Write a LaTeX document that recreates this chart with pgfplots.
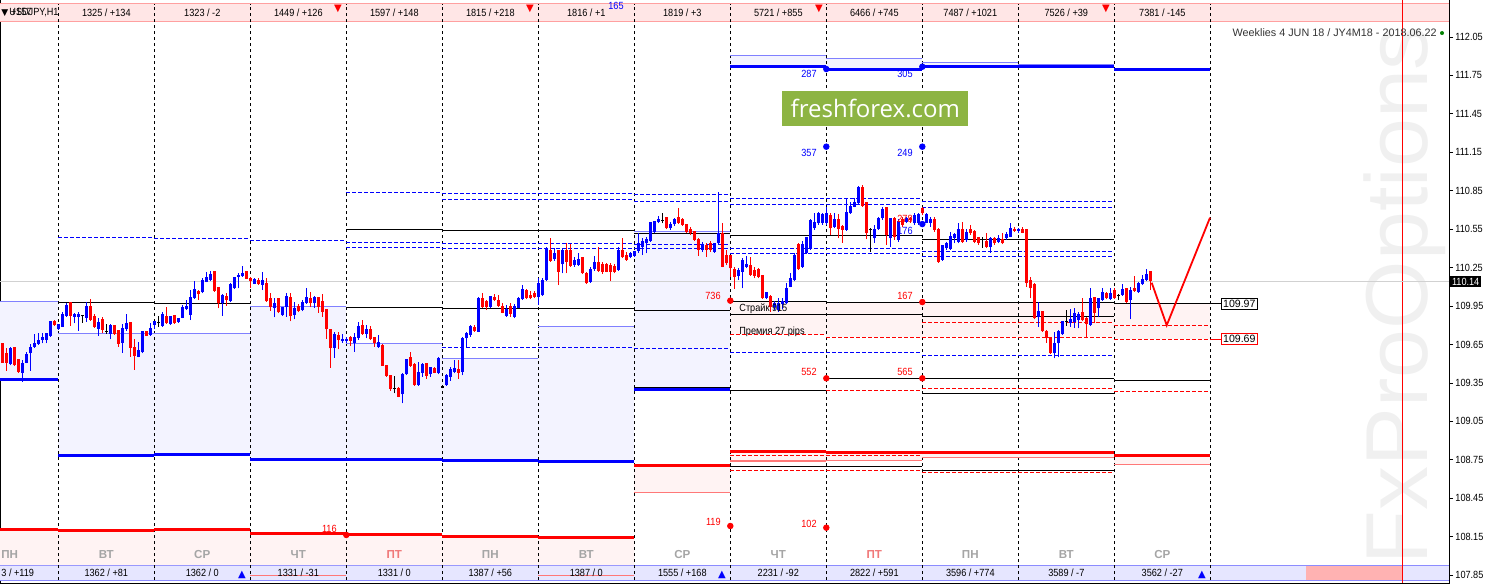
\documentclass[border=0pt]{standalone}
\usepackage{fontspec}
\setmainfont{Liberation Sans}
\newfontfamily\mt[FakeStretch=0.88]{Liberation Sans}
\newfontfamily\dv{DejaVu Sans}
\newfontfamily\osans{Open Sans}
\usepackage{pgfplots}
\usepackage{pgfplotstable}
\pgfplotsset{compat=1.18}
\definecolor{mtblue}{RGB}{0,0,255}
\definecolor{mtred}{RGB}{255,0,0}
\definecolor{lav}{RGB}{128,128,255}
\definecolor{lavfill}{RGB}{243,243,255}
\definecolor{pinkfill}{RGB}{255,243,243}
\definecolor{pinkline}{RGB}{255,120,120}
\definecolor{topstrip}{RGB}{255,230,230}
\definecolor{topline}{RGB}{255,160,160}
\definecolor{botstrip}{RGB}{230,230,255}
\definecolor{botline}{RGB}{140,140,255}
\definecolor{ffgreen}{RGB}{141,180,67}
\definecolor{wm}{RGB}{240,240,240}
\definecolor{dayg}{RGB}{165,165,165}
\definecolor{dayr}{RGB}{240,120,120}
\newcommand{\sml}{\mt\fontsize{5.2}{6}\selectfont}
\newcommand{\smn}{\fontsize{5.3}{6}\selectfont}
\pgfplotsset{
  wick/.style={draw=none, mark=none, error bars/.cd, y dir=plus, y explicit, error mark=none, error bar style={draw=#1, line width=0.5pt}},
  body/.style={draw=none, mark=none, error bars/.cd, y dir=plus, y explicit, error mark=none, error bar style={draw=#1, line width=1.5pt}},
}

\pgfplotstableread{
x H BH BL L
10.3 109.633 109.615 109.495 109.487
22.3 109.529 109.500 109.430 109.360
26.3 109.591 109.573 109.508 109.503
30.3 109.651 109.630 109.581 109.446
34.3 109.729 109.654 109.633 109.625
38.3 109.737 109.682 109.654 109.646
42.3 109.737 109.703 109.685 109.659
46.3 109.737 109.734 109.688 109.659
50.3 109.833 109.828 109.716 109.711
58.3 109.802 109.802 109.773 109.766
62.3 109.904 109.885 109.789 109.786
66.3 109.976 109.958 109.872 109.867
74.3 109.898 109.880 109.867 109.815
78.3 109.901 109.880 109.867 109.758
86.3 109.979 109.943 109.859 109.828
98.3 109.854 109.825 109.771 109.719
110.3 109.810 109.797 109.732 109.690
122.3 109.810 109.771 109.664 109.586
126.3 109.885 109.810 109.771 109.755
138.3 109.672 109.599 109.555 109.550
142.3 109.755 109.755 109.589 109.581
150.3 109.815 109.776 109.727 109.716
154.3 109.833 109.828 109.802 109.768
162.3 109.906 109.885 109.797 109.789
170.3 109.875 109.867 109.807 109.802
178.3 109.854 109.849 109.826 109.820
182.3 109.958 109.940 109.859 109.854
186.3 109.997 109.950 109.930 109.919
190.3 110.075 110.015 109.880 109.841
194.3 110.146 110.081 110.015 110.008
202.3 110.166 110.153 110.057 110.049
206.3 110.218 110.172 110.140 110.135
210.3 110.224 110.198 110.153 110.146
222.3 110.044 110.036 109.976 109.875
230.3 110.127 110.120 109.989 109.979
234.3 110.179 110.172 110.088 110.086
238.3 110.205 110.192 110.179 110.088
242.3 110.263 110.200 110.182 110.179
254.3 110.166 110.159 110.125 110.122
262.3 110.218 110.146 110.117 110.075
274.3 110.010 109.971 109.932 109.862
282.3 109.945 109.937 109.880 109.875
286.3 110.055 110.028 109.940 109.867
294.3 109.979 109.932 109.880 109.846
302.3 109.997 109.979 109.919 109.909
306.3 110.088 110.018 109.976 109.969
314.3 110.029 110.018 109.971 109.935
334.3 109.750 109.724 109.625 109.547
342.3 109.729 109.690 109.677 109.664
346.3 109.711 109.690 109.677 109.659
354.3 109.737 109.701 109.664 109.594
358.3 109.828 109.794 109.703 109.685
366.3 109.802 109.768 109.732 109.698
378.3 109.724 109.669 109.633 109.625
402.3 109.425 109.412 109.261 109.191
406.3 109.534 109.529 109.417 109.412
418.3 109.516 109.430 109.334 109.326
422.3 109.508 109.490 109.430 109.399
430.3 109.477 109.472 109.417 109.399
438.3 109.550 109.542 109.430 109.417
446.3 109.417 109.407 109.334 109.329
450.3 109.472 109.451 109.399 109.365
454.3 109.529 109.459 109.438 109.425
462.3 109.711 109.698 109.438 109.409
466.3 109.745 109.732 109.698 109.628
470.3 109.802 109.794 109.721 109.711
478.3 110.023 110.010 109.750 109.747
490.3 110.023 110.021 109.945 109.937
506.3 109.958 109.919 109.875 109.867
514.3 109.963 109.945 109.867 109.854
518.3 110.023 110.010 109.937 109.932
522.3 110.112 110.080 110.002 109.997
538.3 110.166 110.127 110.023 109.958
542.3 110.166 110.153 110.034 110.029
546.3 110.414 110.388 110.153 110.148
554.3 110.400 110.361 110.315 110.304
562.3 110.400 110.380 110.276 110.205
574.3 110.335 110.309 110.270 110.257
578.3 110.361 110.315 110.270 110.263
590.3 110.257 110.237 110.140 110.132
594.3 110.341 110.289 110.237 110.224
618.3 110.408 110.380 110.231 110.226
630.3 110.374 110.361 110.330 110.322
634.3 110.380 110.374 110.341 110.335
638.3 110.518 110.440 110.380 110.367
642.3 110.479 110.453 110.408 110.348
646.3 110.492 110.471 110.445 110.361
650.3 110.609 110.601 110.458 110.453
654.3 110.616 110.609 110.525 110.518
658.3 110.653 110.622 110.603 110.596
670.3 110.609 110.588 110.557 110.544
674.3 110.635 110.622 110.588 110.575
702.3 110.453 110.419 110.388 110.374
714.3 110.445 110.440 110.374 110.367
718.3 110.838 110.518 110.440 110.434
738.3 110.244 110.231 110.185 110.153
742.3 110.322 110.309 110.218 110.088
746.3 110.341 110.276 110.257 110.244
766.3 110.062 110.054 110.010 110.002
774.3 109.992 109.971 109.945 109.919
778.3 110.010 109.971 109.919 109.906
782.3 110.015 109.984 109.963 109.924
786.3 110.127 110.088 109.971 109.966
790.3 110.205 110.166 110.101 110.096
794.3 110.361 110.348 110.153 110.145
802.3 110.460 110.434 110.257 110.250
806.3 110.492 110.486 110.361 110.356
810.3 110.627 110.617 110.400 110.387
814.3 110.679 110.603 110.557 110.544
818.3 110.687 110.674 110.596 110.583
822.3 110.679 110.666 110.601 110.583
826.3 110.726 110.674 110.601 110.583
834.3 110.679 110.627 110.564 110.557
846.3 110.791 110.682 110.544 110.536
850.3 110.760 110.726 110.674 110.669
854.3 110.791 110.757 110.726 110.721
858.3 110.887 110.877 110.752 110.744
874.3 110.583 110.549 110.479 110.445
878.3 110.648 110.635 110.549 110.544
882.3 110.726 110.705 110.635 110.622
890.3 110.640 110.635 110.479 110.408
898.3 110.627 110.609 110.466 110.453
906.3 110.648 110.635 110.609 110.596
914.3 110.674 110.653 110.596 110.583
918.3 110.679 110.666 110.601 110.583
926.3 110.674 110.663 110.601 110.596
930.3 110.648 110.627 110.601 110.570
942.3 110.427 110.419 110.310 110.304
946.3 110.453 110.440 110.401 110.388
950.3 110.531 110.492 110.393 110.388
954.3 110.523 110.510 110.484 110.440
958.3 110.601 110.544 110.453 110.440
966.3 110.549 110.523 110.466 110.453
990.3 110.492 110.479 110.414 110.367
998.3 110.505 110.479 110.453 110.440
1006.3 110.531 110.510 110.479 110.466
1010.3 110.596 110.557 110.492 110.486
1018.3 110.557 110.544 110.536 110.518
1038.3 109.984 109.906 109.862 109.789
1054.3 109.750 109.659 109.581 109.542
1058.3 109.763 109.750 109.659 109.550
1062.3 109.833 109.828 109.729 109.724
1070.3 109.924 109.841 109.820 109.789
1074.3 109.932 109.893 109.828 109.781
1078.3 109.906 109.885 109.841 109.776
1090.3 110.088 110.010 109.802 109.794
1098.3 110.016 110.010 109.932 109.862
1102.3 110.088 110.054 109.997 109.992
1110.3 110.088 110.049 110.005 109.997
1122.3 110.122 110.081 110.036 110.031
1130.3 110.101 110.075 109.997 109.846
1138.3 110.140 110.127 110.057 110.055
1142.3 110.192 110.159 110.122 110.114
1146.3 110.237 110.198 110.153 110.146
}\bluec

\pgfplotstableread{
x H BH BL L
2.7 109.654 109.654 109.508 109.508
6.3 109.620 109.576 109.508 109.446
14.3 109.633 109.625 109.487 109.482
18.3 109.529 109.529 109.438 109.430
54.3 109.841 109.833 109.802 109.797
70.3 109.976 109.976 109.872 109.797
90.3 110.002 109.943 109.844 109.836
94.3 109.885 109.867 109.786 109.781
102.3 109.867 109.841 109.763 109.737
114.3 109.802 109.797 109.732 109.724
118.3 109.763 109.758 109.654 109.633
130.3 109.823 109.823 109.625 109.555
134.3 109.690 109.625 109.563 109.451
146.3 109.755 109.750 109.719 109.716
166.3 109.940 109.872 109.815 109.810
174.3 109.880 109.875 109.815 109.810
198.3 110.075 110.062 110.041 109.997
214.3 110.226 110.218 110.067 110.060
218.3 110.101 110.094 109.971 109.932
226.3 110.049 110.023 109.997 109.953
246.3 110.216 110.216 110.164 110.161
250.3 110.174 110.164 110.146 110.088
258.3 110.172 110.153 110.120 110.114
266.3 110.169 110.125 109.987 109.982
270.3 110.049 110.010 109.940 109.914
278.3 110.010 110.005 109.901 109.893
290.3 110.049 110.018 109.872 109.831
298.3 109.969 109.948 109.911 109.901
310.3 110.062 110.005 109.971 109.940
318.3 110.023 110.018 109.945 109.898
322.3 110.044 109.984 109.906 109.865
326.3 109.924 109.919 109.768 109.695
330.3 109.768 109.763 109.620 109.469
338.3 109.750 109.721 109.685 109.612
350.3 109.716 109.701 109.677 109.638
362.3 109.841 109.797 109.732 109.724
370.3 109.797 109.763 109.690 109.685
374.3 109.711 109.703 109.659 109.633
382.3 109.651 109.641 109.485 109.482
386.3 109.487 109.482 109.407 109.399
390.3 109.407 109.407 109.302 109.287
398.3 109.321 109.308 109.243 109.237
410.3 109.594 109.547 109.485 109.477
414.3 109.503 109.495 109.334 109.329
426.3 109.503 109.498 109.404 109.381
434.3 109.477 109.464 109.430 109.425
458.3 109.529 109.451 109.430 109.381
474.3 109.802 109.784 109.755 109.750
482.3 110.055 110.010 109.940 109.932
486.3 109.997 109.989 109.940 109.919
494.3 110.041 110.015 109.997 109.989
498.3 110.036 109.992 109.950 109.945
502.3 109.971 109.945 109.898 109.893
510.3 109.971 109.945 109.888 109.867
526.3 110.086 110.075 110.010 110.002
530.3 110.070 110.031 110.010 110.002
534.3 110.070 110.049 110.018 110.010
550.3 110.479 110.382 110.304 110.296
558.3 110.387 110.380 110.218 110.114
566.3 110.440 110.387 110.296 110.205
570.3 110.434 110.387 110.263 110.257
582.3 110.335 110.328 110.205 110.200
586.3 110.218 110.205 110.127 110.122
598.3 110.408 110.291 110.226 110.218
602.3 110.296 110.278 110.218 110.200
606.3 110.283 110.276 110.218 110.213
610.3 110.289 110.263 110.218 110.148
614.3 110.276 110.257 110.218 110.205
622.3 110.479 110.380 110.330 110.322
626.3 110.374 110.348 110.309 110.304
666.3 110.648 110.640 110.557 110.549
678.3 110.713 110.640 110.601 110.590
682.3 110.635 110.622 110.583 110.575
686.3 110.590 110.583 110.531 110.518
690.3 110.564 110.551 110.518 110.505
694.3 110.538 110.531 110.466 110.458
698.3 110.479 110.466 110.388 110.341
706.3 110.440 110.419 110.388 110.335
710.3 110.458 110.440 110.388 110.374
722.3 110.596 110.518 110.257 110.252
726.3 110.387 110.348 110.283 110.270
730.3 110.348 110.341 110.244 110.174
734.3 110.257 110.237 110.179 110.083
750.3 110.330 110.263 110.192 110.185
754.3 110.257 110.231 110.185 110.166
758.3 110.244 110.237 110.179 110.166
762.3 110.192 110.185 110.010 110.002
770.3 110.036 110.028 109.940 109.906
798.3 110.440 110.434 110.237 110.231
830.3 110.679 110.658 110.557 110.505
838.3 110.669 110.627 110.549 110.479
842.3 110.583 110.570 110.544 110.445
862.3 110.895 110.877 110.731 110.726
866.3 110.765 110.757 110.518 110.471
886.3 110.726 110.718 110.505 110.427
894.3 110.648 110.635 110.492 110.466
902.3 110.648 110.627 110.583 110.570
910.3 110.648 110.635 110.622 110.601
922.3 110.726 110.713 110.674 110.658
934.3 110.648 110.622 110.544 110.531
938.3 110.557 110.549 110.297 110.289
962.3 110.609 110.544 110.453 110.445
970.3 110.583 110.544 110.518 110.505
974.3 110.544 110.531 110.453 110.440
978.3 110.492 110.484 110.445 110.427
986.3 110.518 110.453 110.414 110.406
994.3 110.492 110.479 110.440 110.427
1002.3 110.518 110.471 110.440 110.432
1014.3 110.570 110.549 110.538 110.531
1022.3 110.570 110.549 110.523 110.518
1026.3 110.549 110.544 110.127 110.101
1030.3 110.179 110.146 110.088 110.010
1034.3 110.127 110.120 109.854 109.846
1042.3 109.911 109.906 109.755 109.750
1046.3 109.763 109.755 109.698 109.664
1050.3 109.711 109.703 109.581 109.576
1082.3 110.010 109.901 109.841 109.836
1086.3 109.867 109.854 109.807 109.698
1094.3 110.023 110.018 109.898 109.815
1106.3 110.062 110.049 110.010 110.002
1114.3 110.088 110.075 110.010 110.002
1126.3 110.094 110.088 109.984 109.976
1134.3 110.185 110.088 110.067 110.062
1150.3 110.218 110.218 110.146 110.075
}\redc

\pgfplotstableread{
x H BH BL L
82.3 109.883 109.875 109.870 109.820
106.3 109.810 109.753 109.747 109.732
158.3 109.872 109.825 109.820 109.786
394.3 109.407 109.310 109.305 109.269
442.3 109.329 109.318 109.313 109.308
662.3 110.679 110.619 110.614 110.596
870.3 110.557 110.546 110.541 110.374
982.3 110.492 110.473 110.468 110.406
1066.3 109.919 109.831 109.826 109.797
1118.3 110.044 110.031 110.026 109.997
}\blackc

\begin{document}
\begin{tikzpicture}
\useasboundingbox (0,0) rectangle (745.5pt,291.5pt);
\begin{axis}[
  at={(0,0)}, anchor=south west,
  scale only axis, width=724.5pt, height=291.5pt,
  xmin=0, xmax=1449, ymin=107.788, ymax=112.339,
  clip=false,
  axis line style={line width=0.5pt},
  xtick=\empty,
  ytick={107.85,108.15,108.45,108.75,109.05,109.35,109.65,109.95,110.25,110.55,110.85,111.15,111.45,111.75,112.05},
  ytick pos=right, yticklabel pos=right,
  tick align=outside, major tick length=2pt,
  tick style={black, line width=0.4pt},
  yticklabel style={font=\sml, inner sep=1pt, /pgf/number format/.cd, fixed, fixed zerofill, precision=2, assume math mode=true},
  every axis plot/.append style={forget plot},
]
% watermark
\node[rotate=90, text=wm, font=\fontsize{44}{44}\selectfont] at (axis cs:1405,110.036) {FxProOptions};

% strips
\fill[topstrip] (axis cs:0,112.175) rectangle (axis cs:1449,112.308);
\draw[topline, line width=0.5pt] (axis cs:0,112.175) -- (axis cs:1449,112.175);
\draw[topline, line width=0.5pt] (axis cs:0,112.308) -- (axis cs:1449,112.308);
\fill[botstrip] (axis cs:0,107.811) rectangle (axis cs:1449,107.928);
\fill[red!30!white] (axis cs:1306,107.815) rectangle (axis cs:1402,107.924);
\draw[botline, line width=0.5pt] (axis cs:0,107.928) -- (axis cs:1449,107.928);
\draw[botline, line width=0.5pt] (axis cs:0,107.811) -- (axis cs:1449,107.811);

% blue zone fills
\addplot[draw=none, fill=lavfill] coordinates {(0,109.380)(58.3,109.380)(58.3,109.987)(0,109.987)} -- cycle;
\addplot[draw=none, fill=lavfill] coordinates {(58.3,108.782)(154.3,108.782)(154.3,109.737)(58.3,109.737)} -- cycle;
\addplot[draw=none, fill=lavfill] coordinates {(154.3,108.793)(250.3,108.793)(250.3,109.737)(154.3,109.737)} -- cycle;
\addplot[draw=none, fill=lavfill] coordinates {(250.3,108.750)(346.3,108.750)(346.3,109.948)(250.3,109.948)} -- cycle;
\addplot[draw=none, fill=lavfill] coordinates {(346.3,108.750)(442.3,108.750)(442.3,109.659)(346.3,109.659)} -- cycle;
\addplot[draw=none, fill=lavfill] coordinates {(442.3,108.743)(538.3,108.743)(538.3,109.542)(442.3,109.542)} -- cycle;
\addplot[draw=none, fill=lavfill] coordinates {(538.3,108.735)(634.3,108.735)(634.3,109.792)(538.3,109.792)} -- cycle;
\addplot[draw=none, fill=lavfill] coordinates {(634.3,109.302)(730.3,109.302)(730.3,110.530)(634.3,110.530)} -- cycle;
\addplot[draw=none, fill=lavfill] coordinates {(730.3,111.818)(826.3,111.818)(826.3,111.907)(730.3,111.907)} -- cycle;
\addplot[draw=none, fill=lavfill] coordinates {(826.3,111.800)(922.3,111.800)(922.3,111.884)(826.3,111.884)} -- cycle;
\addplot[draw=none, fill=lavfill] coordinates {(922.3,111.818)(1018.3,111.818)(1018.3,111.853)(922.3,111.853)} -- cycle;
\addplot[draw=none, fill=lavfill] coordinates {(1018.3,111.818)(1114.3,111.818)(1114.3,111.832)(1018.3,111.832)} -- cycle;

% pink zone fills
\addplot[draw=none, fill=pinkfill] coordinates {(0,107.928)(634.3,107.928)(634.3,108.142)(538.3,108.142)(538.3,108.149)(442.3,108.149)(442.3,108.165)(346.3,108.165)(346.3,108.173)(250.3,108.173)(250.3,108.207)(154.3,108.207)(154.3,108.196)(58.3,108.196)(58.3,108.207)(0,108.207)} -- cycle;
\addplot[draw=none, fill=pinkfill] coordinates {(634.3,108.496)(730.3,108.496)(730.3,108.704)(634.3,108.704)} -- cycle;
\addplot[draw=none, fill=pinkfill] coordinates {(730.3,108.740)(826.3,108.740)(826.3,108.813)(730.3,108.813)} -- cycle;
\addplot[draw=none, fill=pinkfill] coordinates {(826.3,108.746)(922.3,108.746)(922.3,108.803)(826.3,108.803)} -- cycle;
\addplot[draw=none, fill=pinkfill] coordinates {(922.3,108.769)(1114.3,108.769)(1114.3,108.803)(922.3,108.803)} -- cycle;
\addplot[draw=none, fill=pinkfill] coordinates {(1114.3,108.715)(1210.3,108.715)(1210.3,108.787)(1114.3,108.787)} -- cycle;
% strike / premium zone
\addplot[draw=none, fill=pinkfill] coordinates {(730.3,109.724)(826.3,109.724)(826.3,109.987)(730.3,109.987)} -- cycle;
\addplot[draw=none, fill=pinkfill] coordinates {(826.3,109.708)(922.3,109.708)(922.3,109.979)(826.3,109.979)} -- cycle;
\addplot[draw=none, fill=pinkfill] coordinates {(922.3,109.706)(1114.3,109.706)(1114.3,109.979)(922.3,109.979)} -- cycle;
\addplot[draw=none, fill=pinkfill] coordinates {(1114.3,109.690)(1210.3,109.690)(1210.3,109.968)(1114.3,109.968)} -- cycle;

% day separators
\pgfplotsinvokeforeach{58.3,154.3,250.3,346.3,442.3,538.3,634.3,730.3,826.3,922.3,1018.3,1114.3,1210.3}{
  \draw[black, line width=0.5pt, dash pattern=on 1.5pt off 1.5pt] (axis cs:#1,107.811) -- (axis cs:#1,112.308);
}
\draw[mtred, line width=0.5pt] (axis cs:1402.7,107.788) -- (axis cs:1402.7,112.339);

% current price line
\addplot[black!18, line width=0.5pt] coordinates {(0,110.14)(1449,110.14)};

% level lines
\addplot[lav, line width=0.6pt, jump mark left] coordinates {(0,109.987)(58.3,109.737)(154.3,109.737)(250.3,109.948)(346.3,109.659)(442.3,109.542)(538.3,109.792)(634.3,110.530)(730.3,111.907)(826.3,111.884)(922.3,111.853)(1018.3,111.832)(1114.3,111.832)};
\addplot[pinkline, line width=0.6pt, jump mark left] coordinates {(634.3,108.496)(730.3,108.740)(826.3,108.746)(922.3,108.769)(1018.3,108.769)(1114.3,108.715)(1210.3,108.715)};
\addplot[pinkline, line width=0.5pt, unbounded coords=jump] coordinates {(250.3,107.850)(346.3,107.850)(346.3,nan)(538.3,107.850)(634.3,107.850)};

\addplot[black, line width=0.5pt, unbounded coords=jump] coordinates {
(58.3,109.979)(154.3,109.979)(154.3,nan)
(154.3,109.971)(250.3,109.971)(250.3,nan)
(346.3,110.549)(442.3,110.549)(442.3,nan)
(346.3,109.940)(442.3,109.940)(442.3,nan)
(442.3,110.541)(634.3,110.541)(634.3,nan)
(442.3,109.932)(634.3,109.932)(634.3,nan)
(634.3,110.520)(730.3,110.520)(730.3,nan)
(634.3,109.917)(730.3,109.917)(730.3,nan)
(634.3,109.316)(730.3,109.316)(730.3,nan)
(634.3,108.715)(730.3,108.715)(730.3,nan)
(730.3,110.502)(922.3,110.502)(922.3,nan)
(730.3,109.987)(826.3,109.987)(826.3,nan)
(826.3,109.979)(1114.3,109.979)(1114.3,nan)
(730.3,109.886)(922.3,109.886)(922.3,nan)
(730.3,109.292)(826.3,109.292)(826.3,nan)
(826.3,109.386)(1114.3,109.386)(1114.3,nan)
(730.3,108.699)(826.3,108.699)(826.3,nan)
(826.3,108.694)(922.3,108.694)(922.3,nan)
(922.3,110.473)(1114.3,110.473)(1114.3,nan)
(922.3,109.870)(1114.3,109.870)(1114.3,nan)
(922.3,109.269)(1114.3,109.269)(1114.3,nan)
(922.3,108.668)(1114.3,108.668)(1114.3,nan)
(1114.3,109.968)(1221,109.968)(1221,nan)
(1114.3,109.365)(1210.3,109.365)
};

\addplot[mtblue, line width=0.5pt, dash pattern=on 2pt off 1pt, unbounded coords=jump] coordinates {
(58.3,110.487)(154.3,110.487)(154.3,nan)
(154.3,110.479)(250.3,110.479)(250.3,nan)
(250.3,110.463)(346.3,110.463)(346.3,nan)
(346.3,110.838)(442.3,110.838)(442.3,nan)
(346.3,110.447)(442.3,110.447)(442.3,nan)
(346.3,110.408)(442.3,110.408)(442.3,nan)
(442.3,110.828)(634.3,110.828)(634.3,nan)
(442.3,110.783)(634.3,110.783)(634.3,nan)
(442.3,110.442)(634.3,110.442)(634.3,nan)
(442.3,110.401)(634.3,110.401)(634.3,nan)
(442.3,109.628)(634.3,109.628)(634.3,nan)
(634.3,110.822)(730.3,110.822)(730.3,nan)
(634.3,110.768)(730.3,110.768)(730.3,nan)
(634.3,110.429)(730.3,110.429)(730.3,nan)
(634.3,110.397)(730.3,110.397)(730.3,nan)
(634.3,109.620)(730.3,109.620)(730.3,nan)
(730.3,110.791)(922.3,110.791)(922.3,nan)
(730.3,110.739)(922.3,110.739)(922.3,nan)
(730.3,110.397)(922.3,110.397)(922.3,nan)
(730.3,110.361)(922.3,110.361)(922.3,nan)
(730.3,109.589)(922.3,109.589)(922.3,nan)
(922.3,110.768)(1114.3,110.768)(1114.3,nan)
(922.3,110.723)(1114.3,110.723)(1114.3,nan)
(922.3,110.377)(1114.3,110.377)(1114.3,nan)
(922.3,110.338)(1114.3,110.338)(1114.3,nan)
(922.3,109.565)(1114.3,109.565)
};

\addplot[mtred, line width=0.5pt, dash pattern=on 2pt off 1pt, unbounded coords=jump] coordinates {
(730.3,109.724)(826.3,109.724)(826.3,nan)
(826.3,109.708)(922.3,109.708)(922.3,nan)
(922.3,109.823)(1114.3,109.823)(1114.3,nan)
(922.3,109.706)(1114.3,109.706)(1114.3,nan)
(1114.3,109.800)(1210.3,109.800)(1210.3,nan)
(1114.3,109.690)(1210.3,109.690)(1210.3,nan)
(826.3,109.292)(922.3,109.292)(922.3,nan)
(922.3,109.310)(1114.3,109.310)(1114.3,nan)
(1114.3,109.285)(1210.3,109.285)(1210.3,nan)
(730.3,108.787)(922.3,108.787)(922.3,nan)
(730.3,108.668)(922.3,108.668)(922.3,nan)
(922.3,108.647)(1114.3,108.647)
};
\addplot[mtred, line width=0.5pt] coordinates {(1210.3,109.690)(1221,109.690)};

\addplot[mtblue, line width=1.5pt, jump mark left] coordinates {(0,109.380)(58.3,108.782)(154.3,108.793)(250.3,108.750)(346.3,108.750)(442.3,108.743)(538.3,108.735)(634.3,109.302)(730.3,111.818)(826.3,111.800)(922.3,111.818)(1018.3,111.818)(1114.3,111.793)(1210.3,111.793)};
\addplot[mtred, line width=1.5pt, jump mark left] coordinates {(0,108.207)(58.3,108.196)(154.3,108.207)(250.3,108.173)(346.3,108.165)(442.3,108.149)(538.3,108.142)(634.3,108.704)(730.3,108.813)(826.3,108.803)(922.3,108.803)(1018.3,108.803)(1114.3,108.787)(1210.3,108.787)};

% candles: wicks then bodies
\addplot[wick=mtblue] table[x=x, y=L, y error plus expr=\thisrow{H}-\thisrow{L}] {\bluec};
\addplot[body=mtblue] table[x=x, y=BL, y error plus expr=\thisrow{BH}-\thisrow{BL}+0.004] {\bluec};
\addplot[wick=mtred] table[x=x, y=L, y error plus expr=\thisrow{H}-\thisrow{L}] {\redc};
\addplot[body=mtred] table[x=x, y=BL, y error plus expr=\thisrow{BH}-\thisrow{BL}+0.004] {\redc};
\addplot[wick=black] table[x=x, y=L, y error plus expr=\thisrow{H}-\thisrow{L}] {\blackc};
\addplot[body=black] table[x=x, y=BL, y error plus expr=\thisrow{BH}-\thisrow{BL}+0.004] {\blackc};

% forecast zigzag
\addplot[mtred, line width=0.9pt] coordinates {(1151.7,110.132)(1166.7,109.800)(1210,110.640)};

% dots
\addplot[only marks, mark=*, mark size=1.4pt, mtred] coordinates {(730.3,109.992)(922.3,109.981)(826.3,109.386)(922.3,109.386)(346.3,108.163)(730.3,108.233)(826.3,108.220)};
\addplot[only marks, mark=*, mark size=1.4pt, mtblue] coordinates {(826.3,111.800)(922.3,111.818)(826.3,111.194)(922.3,111.194)(922.3,110.590)};

% dot labels
\begin{scope}[every node/.style={font=\sml, inner sep=0pt, anchor=east}]
\node[text=mtred] at (axis cs:721,110.031) {736};
\node[text=mtred] at (axis cs:913,110.031) {167};
\node[text=mtred] at (axis cs:817,109.433) {552};
\node[text=mtred] at (axis cs:913,109.433) {565};
\node[text=mtred] at (axis cs:337,108.207) {116};
\node[text=mtred] at (axis cs:721,108.263) {119};
\node[text=mtred] at (axis cs:817,108.248) {102};
\node[text=mtblue] at (axis cs:817,111.759) {287};
\node[text=mtblue] at (axis cs:913,111.761) {305};
\node[text=mtblue] at (axis cs:817,111.147) {357};
\node[text=mtblue] at (axis cs:913,111.147) {249};
\node[text=mtred] at (axis cs:913,110.627) {278};
\node[text=mtblue] at (axis cs:913,110.538) {176};
\node[text=mtblue] at (axis cs:624,112.292) {165};
\end{scope}
\node[font=\sml, anchor=west, inner sep=0pt] at (axis cs:739,109.932) {Страйк 915};
\node[font=\sml, anchor=west, inner sep=0pt] at (axis cs:739,109.752) {Премия 27 pips};

% right boxes
\node[draw=black, fill=white, line width=0.5pt, anchor=west, inner sep=0.8pt, font=\smn] at (axis cs:1221,109.968) {109.97};
\node[draw=mtred, fill=white, line width=0.5pt, anchor=west, inner sep=0.8pt, font=\smn] at (axis cs:1221,109.690) {109.69};
\node[fill=black, text=white, anchor=west, inner sep=0.8pt, font=\sml] at (axis cs:1450,110.14) {110.14};

% logo and title
\node[fill=ffgreen, text=white, minimum width=93pt, minimum height=17.5pt, inner sep=0pt, font=\osans\fontsize{12}{12}\selectfont] at (axis cs:875.3,111.492) {freshforex.com};
\node[anchor=east, inner sep=0pt, text=black!80, font=\fontsize{5.4}{6}\selectfont] at (axis cs:1437,112.081) {Weeklies 4 JUN 18 / JY4M18 - 2018.06.22};
\node[circle, fill=green!50!black, inner sep=0pt, minimum size=2pt] at (axis cs:1442,112.081) {};

% top strip texts
\begin{scope}[every node/.style={font=\sml, inner sep=0pt}]
\node[anchor=west] at (axis cs:1,112.241) {\dv\fontsize{4.5}{5}\selectfont ▼\sml\ +157};
\node[anchor=west] at (axis cs:9,112.241) {USDJPY,H1};
\node at (axis cs:106.3,112.241) {1325 / +134};
\node at (axis cs:202.3,112.241) {1323 / -2};
\node at (axis cs:298.3,112.241) {1449 / +126};
\node at (axis cs:394.3,112.241) {1597 / +148};
\node at (axis cs:490.3,112.241) {1815 / +218};
\node at (axis cs:586.3,112.241) {1816 / +1};
\node at (axis cs:682.3,112.241) {1819 / +3};
\node at (axis cs:778.3,112.241) {5721 / +855};
\node at (axis cs:874.3,112.241) {6466 / +745};
\node at (axis cs:970.3,112.241) {7487 / +1021};
\node at (axis cs:1066.3,112.241) {7526 / +39};
\node at (axis cs:1162.3,112.241) {7381 / -145};
\node[anchor=west] at (axis cs:1,107.870) {3 / +119};
\node at (axis cs:106.3,107.870) {1362 / +81};
\node at (axis cs:202.3,107.870) {1362 / 0};
\node at (axis cs:298.3,107.870) {1331 / -31};
\node at (axis cs:394.3,107.870) {1331 / 0};
\node at (axis cs:490.3,107.870) {1387 / +56};
\node at (axis cs:586.3,107.870) {1387 / 0};
\node at (axis cs:682.3,107.870) {1555 / +168};
\node at (axis cs:778.3,107.870) {2231 / -92};
\node at (axis cs:874.3,107.870) {2822 / +591};
\node at (axis cs:970.3,107.870) {3596 / +774};
\node at (axis cs:1066.3,107.870) {3589 / -7};
\node at (axis cs:1162.3,107.870) {3562 / -27};
\end{scope}
\begin{scope}[every node/.style={font=\dv\fontsize{5}{5}\selectfont, inner sep=0pt}]
\node[text=mtred] at (axis cs:338,112.266) {▼};
\node[text=mtred] at (axis cs:530,112.266) {▼};
\node[text=mtred] at (axis cs:819,112.266) {▼};
\node[text=mtred] at (axis cs:1106,112.266) {▼};
\node[text=mtblue] at (axis cs:242,107.850) {▲};
\node[text=mtblue] at (axis cs:722,107.850) {▲};
\node[text=mtblue] at (axis cs:1202,107.850) {▲};
\end{scope}
\begin{scope}[every node/.style={font=\bfseries\fontsize{5.8}{6}\selectfont, inner sep=0pt, text=dayg}]
\node[anchor=west] at (axis cs:1,108.007) {ПН};
\node at (axis cs:106.3,108.007) {ВТ};
\node at (axis cs:202.3,108.007) {СР};
\node at (axis cs:298.3,108.007) {ЧТ};
\node[text=dayr] at (axis cs:394.3,108.007) {ПТ};
\node at (axis cs:490.3,108.007) {ПН};
\node at (axis cs:586.3,108.007) {ВТ};
\node at (axis cs:682.3,108.007) {СР};
\node at (axis cs:778.3,108.007) {ЧТ};
\node[text=dayr] at (axis cs:874.3,108.007) {ПТ};
\node at (axis cs:970.3,108.007) {ПН};
\node at (axis cs:1066.3,108.007) {ВТ};
\node at (axis cs:1162.3,108.007) {СР};
\end{scope}
\end{axis}
\end{tikzpicture}
\end{document}
